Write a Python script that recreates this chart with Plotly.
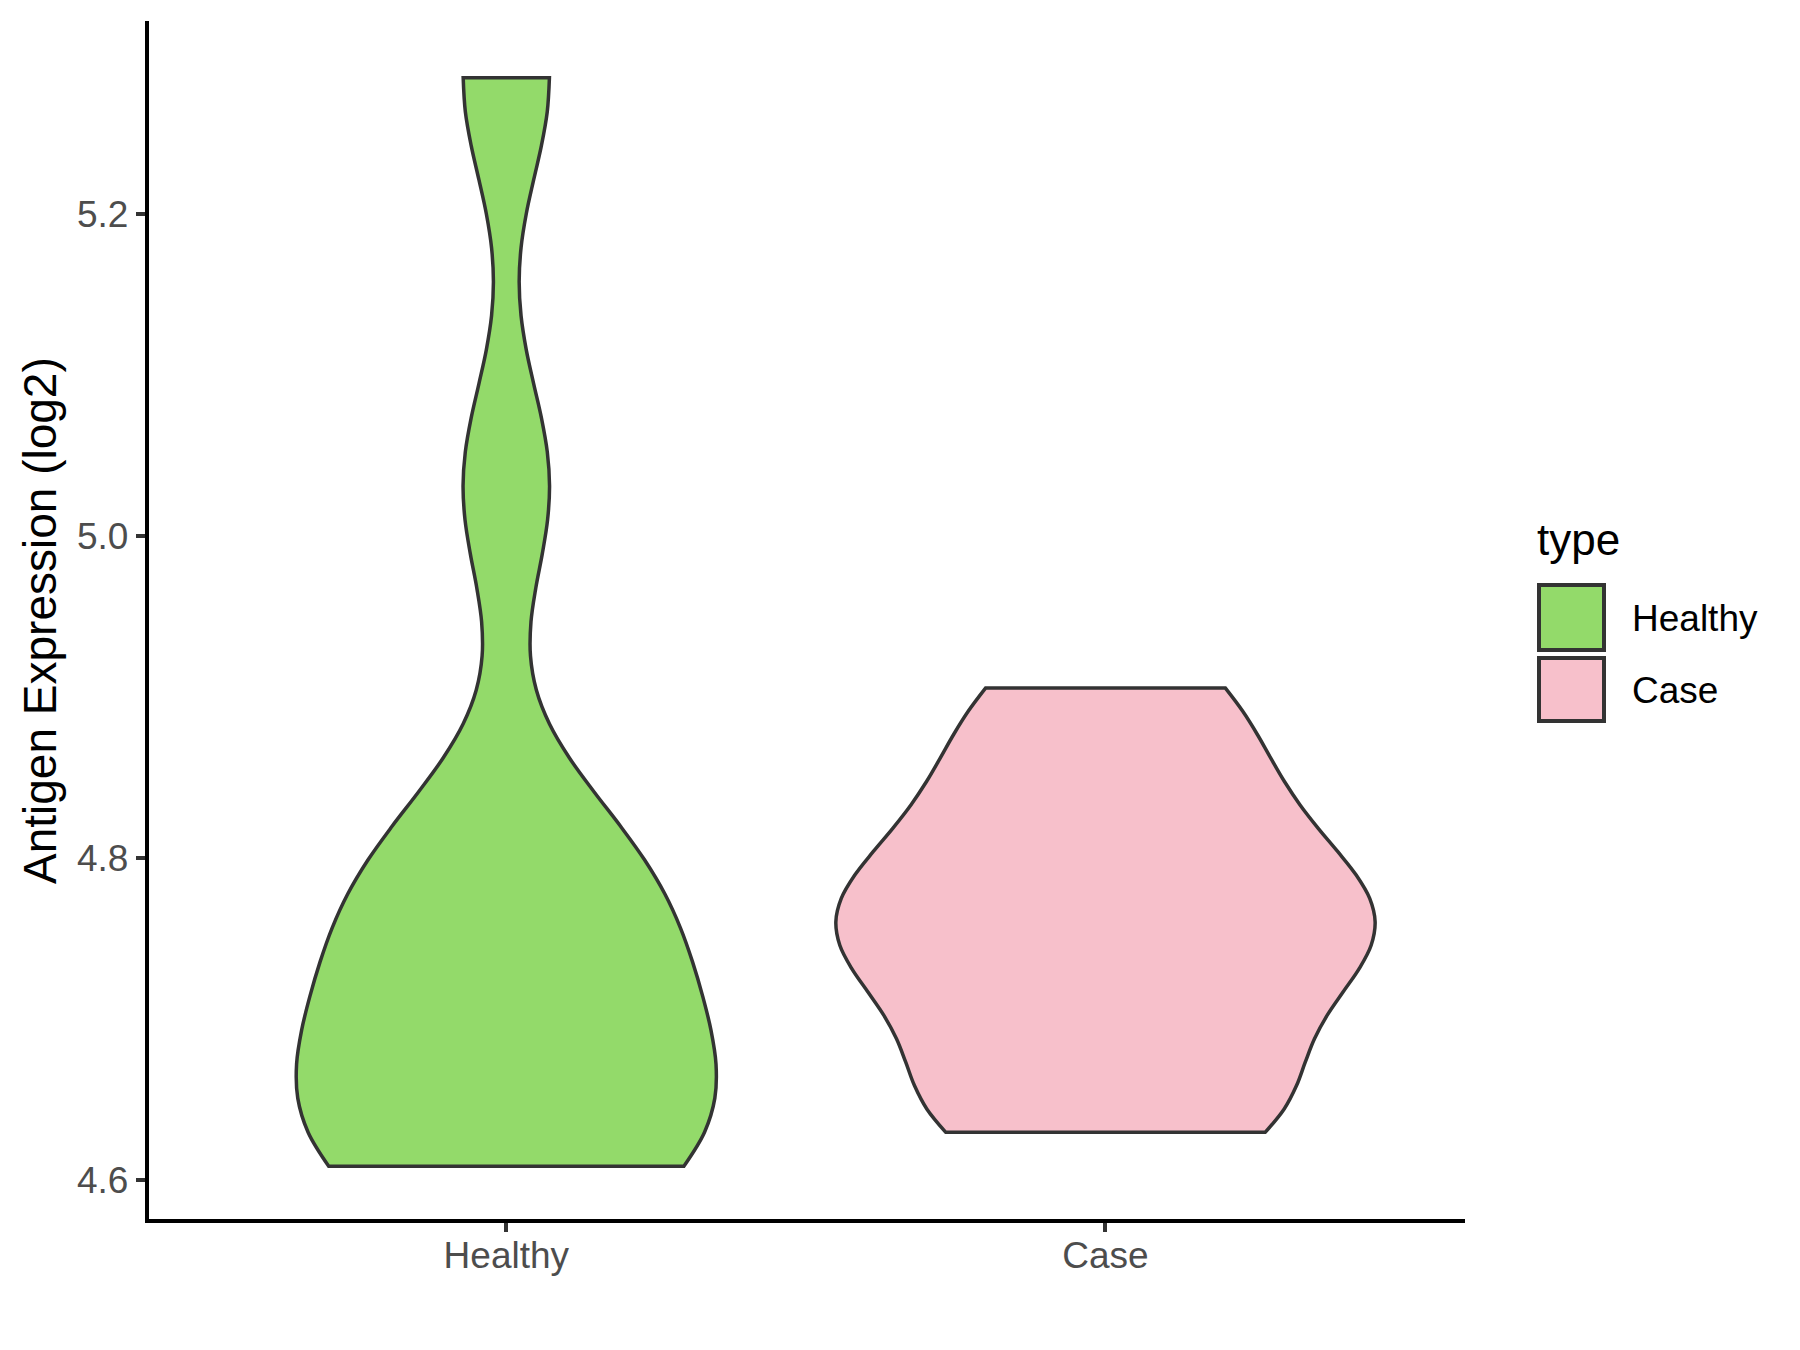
import plotly.graph_objects as go

# ---- data ----
categories = ["Healthy", "Case"]
healthy_values = [4.6085, 4.6085, 4.635, 4.665, 4.70, 4.745, 4.79, 4.80, 5.031, 5.2845]
case_values = [4.6295, 4.655, 4.715, 4.75, 4.765, 4.80, 4.85, 4.9055]
y_tick_values = [4.6, 4.8, 5.0, 5.2]
y_tick_labels = ["4.6", "4.8", "5.0", "5.2"]
y_axis_limits = [4.5757, 5.3197]
x_axis_limits = [-0.5963, 1.6]
legend_title = "type"
y_title = "Antigen Expression (log2)"

# ---- styles ----
fill_colors = {"Healthy": "#93DA6A", "Case": "#F7C0CB"}
violin_widths = {"Healthy": 0.70, "Case": 0.90}
bandwidths = {"Healthy": 0.065, "Case": 0.045}
outline = "#333333"
FONT = "Liberation Sans, Arial, Helvetica, sans-serif"

series = {"Healthy": healthy_values, "Case": case_values}

fig = go.Figure()
for cat in categories:
    vals = series[cat]
    fig.add_trace(go.Violin(
        x=[cat] * len(vals),
        y=vals,
        name=cat,
        width=violin_widths[cat],
        bandwidth=bandwidths[cat],
        spanmode="hard",
        scalemode="width",
        points=False,
        box_visible=False,
        meanline_visible=False,
        fillcolor=fill_colors[cat],
        opacity=1,
        line=dict(color=outline, width=3.5),
        hoverinfo="skip",
        showlegend=False,
    ))

# page body adds an 8px offset; figure sized so it fits the 1800x1350 window
OFF = 8
W, H = 1792, 1342
L, R, T, B = 141, 335, 13, 131
pw, ph = W - L - R, H - T - B


def px(xs):
    return (xs - OFF - L) / pw


def py(ys):
    return (H - B - (ys - OFF)) / ph


axis_common = dict(
    showline=True, linecolor="black", linewidth=4.3,
    ticks="outside", ticklen=9, tickwidth=4, tickcolor=outline,
    tickfont=dict(family=FONT, size=37, color="#4D4D4D"),
    showgrid=False, zeroline=False, automargin=False,
)

fig.update_layout(
    width=W, height=H,
    margin=dict(l=L, r=R, t=T, b=B),
    paper_bgcolor="white", plot_bgcolor="white",
    showlegend=False,
    violinmode="overlay",
    font=dict(family=FONT),
    xaxis=dict(type="category", categoryorder="array", categoryarray=categories,
               range=x_axis_limits, ticklabelstandoff=-9, **axis_common),
    yaxis=dict(range=y_axis_limits, tickvals=y_tick_values, ticktext=y_tick_labels,
               ticklabelstandoff=0, **axis_common),
)

annotations = [
    dict(text=y_title, x=px(40), y=py(621), xref="paper", yref="paper", textangle=-90,
         xanchor="center", yanchor="middle", showarrow=False,
         font=dict(family=FONT, size=46, color="black")),
    dict(text=legend_title, x=px(1535), y=py(539), xref="paper", yref="paper",
         xanchor="left", yanchor="middle", showarrow=False,
         font=dict(family=FONT, size=44, color="black")),
]
shapes = []
key_rows = [(585, 650), (658, 721)]
for cat, (ytop, ybot) in zip(categories, key_rows):
    shapes.append(dict(type="rect", xref="paper", yref="paper",
                       x0=px(1539), x1=px(1604), y0=py(ybot), y1=py(ytop),
                       line=dict(color=outline, width=4), fillcolor=fill_colors[cat]))
    annotations.append(dict(text=cat, x=px(1630), y=py((ytop + ybot) / 2 + 1), xref="paper", yref="paper",
                            xanchor="left", yanchor="middle", showarrow=False,
                            font=dict(family=FONT, size=37, color="black")))

fig.update_layout(annotations=annotations, shapes=shapes)
fig.write_html("out.html")
